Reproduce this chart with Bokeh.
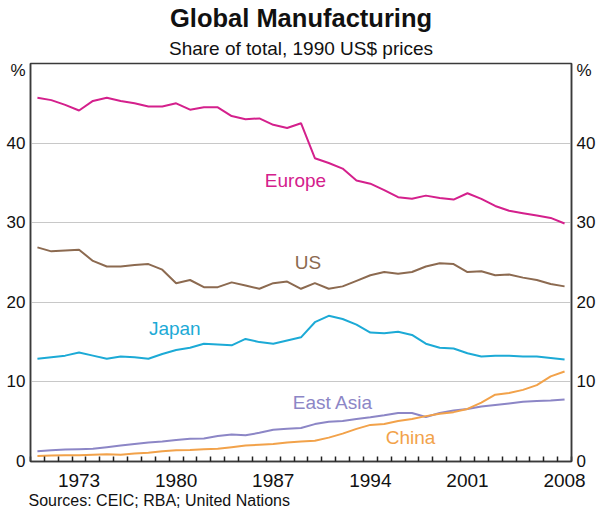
from bokeh.plotting import figure
from bokeh.models import (ColumnDataSource, FixedTicker, LinearAxis, Label,
                          CustomJSTickFormatter, Title)
from bokeh.embed import file_html
from bokeh.resources import INLINE

years = list(range(1970, 2009))

europe = [45.7, 45.4, 44.8, 44.1, 45.3, 45.7, 45.3, 45.0, 44.6, 44.6,
          45.0, 44.2, 44.5, 44.5, 43.4, 43.0, 43.1, 42.3, 41.9, 42.5,
          38.1, 37.5, 36.8, 35.3, 34.9, 34.1, 33.2, 33.0, 33.4, 33.1,
          32.9, 33.7, 33.0, 32.1, 31.5, 31.2, 30.9, 30.6, 29.9]
us = [26.9, 26.4, 26.5, 26.6, 25.2, 24.5, 24.5, 24.7, 24.8, 24.1,
      22.4, 22.8, 21.9, 21.9, 22.5, 22.1, 21.7, 22.4, 22.6, 21.7,
      22.4, 21.7, 22.0, 22.7, 23.4, 23.8, 23.6, 23.8, 24.5, 24.9,
      24.8, 23.8, 23.9, 23.4, 23.5, 23.1, 22.8, 22.3, 22.0]
japan = [12.9, 13.1, 13.3, 13.7, 13.3, 12.9, 13.2, 13.1, 12.9, 13.5,
         14.0, 14.3, 14.8, 14.7, 14.6, 15.4, 15.0, 14.8, 15.2, 15.6,
         17.5, 18.3, 17.9, 17.2, 16.2, 16.1, 16.3, 15.9, 14.8, 14.3,
         14.2, 13.6, 13.2, 13.3, 13.3, 13.2, 13.2, 13.0, 12.8]
east_asia = [1.3, 1.4, 1.5, 1.55, 1.6, 1.8, 2.0, 2.2, 2.4, 2.5,
             2.7, 2.85, 2.9, 3.2, 3.4, 3.3, 3.6, 4.0, 4.1, 4.2,
             4.7, 5.0, 5.1, 5.35, 5.55, 5.8, 6.1, 6.1, 5.6, 6.1,
             6.4, 6.6, 6.9, 7.1, 7.3, 7.5, 7.6, 7.65, 7.8]
china = [0.7, 0.75, 0.8, 0.8, 0.85, 0.9, 0.85, 1.0, 1.1, 1.3,
         1.4, 1.45, 1.55, 1.6, 1.8, 2.0, 2.1, 2.2, 2.4, 2.5,
         2.6, 3.0, 3.5, 4.1, 4.6, 4.7, 5.1, 5.35, 5.7, 6.0,
         6.2, 6.6, 7.4, 8.4, 8.6, 9.0, 9.6, 10.7, 11.3]

series_names = ["Europe", "US", "Japan", "East Asia", "China"]
series_colors = ["#d4208c", "#8c6a50", "#1caad6", "#8c86c6", "#f2a24a"]
label_x = [1988.6, 1989.5, 1979.9, 1991.3, 1996.9]
label_y = [35.3, 25.0, 16.7, 7.4, 3.0]

x_labels = [1973, 1980, 1987, 1994, 2001, 2008]
y_labels = [0, 10, 20, 30, 40]

FONT = "Liberation Sans"

p = figure(width=600, height=513, x_range=(1969.5, 2008.5), y_range=(0, 50),
           output_backend="svg", toolbar_location=None,
           min_border_left=30, min_border_right=29,
           min_border_top=63, min_border_bottom=52)
p.background_fill_color = "white"
p.border_fill_color = "white"
p.outline_line_color = "#3a3a3a"
p.outline_line_width = 1.5

src = ColumnDataSource(dict(year=years, europe=europe, us=us, japan=japan,
                            east_asia=east_asia, china=china))
cols = ["europe", "us", "japan", "east_asia", "china"]
for c, col in zip(cols, series_colors):
    p.line("year", c, source=src, line_color=col, line_width=2)

for name, col, lx, ly in zip(series_names, series_colors, label_x, label_y):
    p.add_layout(Label(x=lx, y=ly, text=name, text_color=col,
                       text_font=FONT, text_font_size="19px",
                       text_align="center", text_baseline="middle"))

# x axis
xa = p.xaxis[0]
xa.ticker = FixedTicker(ticks=x_labels,
                        minor_ticks=[y - 0.5 for y in years] + [years[-1] + 0.5])
xa.major_tick_in = 0
xa.major_tick_out = 0
xa.minor_tick_in = 5
xa.minor_tick_out = 0
xa.minor_tick_line_color = "#222222"
xa.minor_tick_line_width = 1.5
xa.axis_line_color = "#3a3a3a"
xa.axis_line_width = 1.5
xa.major_label_standoff = 12
xa.major_label_text_font = FONT
xa.major_label_text_font_size = "19px"
xa.major_label_text_color = "#111111"

# y axes
fmt = CustomJSTickFormatter(code="return tick > 45 ? '%' : tick.toFixed(0);")
yticks = y_labels + [49.1]
ya = p.yaxis[0]
ra = LinearAxis()
p.add_layout(ra, "right")
for ax in (ya, ra):
    ax.ticker = FixedTicker(ticks=yticks)
    ax.formatter = fmt
    ax.major_tick_in = 0
    ax.major_tick_out = 0
    ax.minor_tick_in = 0
    ax.minor_tick_out = 0
    ax.axis_line_color = "#3a3a3a"
    ax.axis_line_width = 1.5
    ax.major_label_standoff = 5
    ax.major_label_text_font = FONT
    ax.major_label_text_font_size = "17px"
    ax.major_label_text_color = "#111111"

p.xgrid.visible = False
p.ygrid.ticker = FixedTicker(ticks=[10, 20, 30, 40])
p.ygrid.grid_line_color = "#c8c8c8"
p.ygrid.grid_line_width = 1

# titles and source
p.add_layout(Title(text="Share of total, 1990 US$ prices", align="center",
                   text_font=FONT, text_font_size="19px",
                   text_font_style="normal", text_color="#111111",
                   standoff=9), "above")
p.add_layout(Title(text="Global Manufacturing", align="center",
                   text_font=FONT, text_font_size="25.5px",
                   text_font_style="bold", text_color="#111111",
                   standoff=0), "above")
p.add_layout(Title(text="Sources: CEIC; RBA; United Nations", align="left",
                   text_font=FONT, text_font_size="16px",
                   text_font_style="normal", text_color="#111111",
                   standoff=0, offset=-2), "below")

open("out.html", "w").write(file_html(p, INLINE))
